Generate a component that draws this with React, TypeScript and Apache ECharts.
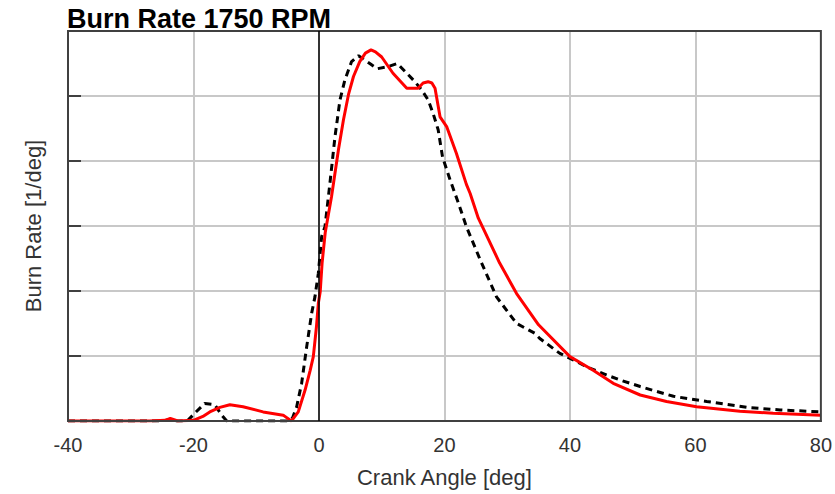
import React, { useEffect, useRef } from "react";
import * as echarts from "echarts";

const titleText = "Burn Rate 1750 RPM";
const xAxisName = "Crank Angle [deg]";
const yAxisName = "Burn Rate [1/deg]";

const redCurve: [number, number][] = [
  [-40, 0], [-27, 0], [-24.5, 0.01], [-23.7, 0.04], [-22.5, 0], [-20, 0.01], [-18.5, 0.07],
  [-17.4, 0.14], [-15.8, 0.21], [-14.2, 0.25], [-12.1, 0.22], [-8.9, 0.14], [-5.7, 0.09],
  [-4.4, 0], [-3.3, 0.14], [-2.2, 0.48], [-1.4, 0.78], [-0.9, 0.99], [-0.4, 1.45], [-0.1, 1.81],
  [0.2, 1.99], [0.5, 2.43], [1.0, 2.9], [2.0, 3.45], [3.1, 4.17], [3.9, 4.63], [4.7, 5.02],
  [5.5, 5.3], [6.5, 5.53], [7.4, 5.66], [8.3, 5.71], [9.0, 5.68], [10.0, 5.6], [11.8, 5.35],
  [14.0, 5.12], [15.8, 5.12], [16.6, 5.2], [17.4, 5.22], [18.0, 5.2], [18.5, 5.12], [19.3, 4.68],
  [20.35, 4.53], [21.9, 4.12], [23.5, 3.64], [24.1, 3.5], [25.4, 3.12], [26.2, 2.96],
  [28.8, 2.43], [31.5, 1.96], [35.0, 1.48], [40.0, 0.99], [43.7, 0.78], [46.9, 0.58],
  [51.2, 0.4], [55.4, 0.3], [60.2, 0.22], [67.1, 0.15], [72.4, 0.12], [80, 0.09],
];

const blackCurve: [number, number][] = [
  [-40, 0], [-25, 0], [-24, 0.02], [-23, 0], [-21, 0], [-19.8, 0.12], [-18.2, 0.27],
  [-16.6, 0.25], [-15.5, 0.09], [-14.7, 0], [-5, 0], [-4.2, 0.05], [-3.55, 0.22],
  [-2.76, 0.58], [-1.96, 1.14], [-1.16, 1.66], [-0.64, 1.91], [-0.1, 2.27], [0.43, 2.84],
  [0.96, 2.99], [1.75, 3.66], [2.55, 4.37], [3.35, 4.94], [4.14, 5.25], [5.2, 5.53],
  [6.3, 5.62], [8.1, 5.5], [9.3, 5.42], [11, 5.45], [12.5, 5.5], [14.0, 5.35], [15.3, 5.22],
  [16.4, 5.09], [17.4, 4.94], [18.2, 4.73], [19.0, 4.48], [19.7, 4.06], [20.9, 3.71],
  [22.2, 3.36], [23.5, 2.99], [25.7, 2.48], [28.3, 1.91], [31.5, 1.5], [34.4, 1.35],
  [35.2, 1.27], [38.4, 1.04], [40.5, 0.94], [43, 0.82], [45.8, 0.71], [48.0, 0.63],
  [51.2, 0.53], [56.5, 0.38], [61.8, 0.3], [68.2, 0.21], [73.5, 0.17], [80, 0.14],
];

const xMin = -40;
const xMax = 80;
const xStep = 20;
const yMin = 0;
const yMax = 6;
const yStep = 1;

const FONT = "Liberation Sans, Arial, sans-serif";

export default function App() {
  const ref = useRef<HTMLDivElement>(null);
  useEffect(() => {
    if (!ref.current) return;
    const chart = echarts.init(ref.current, undefined, { renderer: "svg" });
    chart.setOption({
      animation: false,
      backgroundColor: "#ffffff",
      title: {
        text: titleText,
        left: 67,
        top: 5,
        padding: 0,
        textStyle: { fontFamily: FONT, fontSize: 27, fontWeight: "bold", color: "#000" },
      },
      grid: {
        left: 68,
        right: 14,
        top: 31,
        bottom: 73,
        show: true,
        borderColor: "#404040",
        borderWidth: 2,
        backgroundColor: "transparent",
        z: 5,
      },
      xAxis: {
        type: "value",
        min: xMin,
        max: xMax,
        interval: xStep,
        name: xAxisName,
        nameLocation: "middle",
        nameGap: 45,
        nameTextStyle: { fontFamily: FONT, fontSize: 22, color: "#333" },
        axisLine: { show: true, onZero: false, lineStyle: { color: "#404040", width: 2 } },
        axisTick: { show: false },
        axisLabel: { fontFamily: FONT, fontSize: 20, color: "#333", margin: 14 },
        splitLine: {
          show: true,
          showMinLine: false,
          showMaxLine: false,
          lineStyle: { color: "#c8c8c8", width: 2 },
        },
      },
      yAxis: {
        type: "value",
        min: yMin,
        max: yMax,
        interval: yStep,
        name: yAxisName,
        nameLocation: "middle",
        nameGap: 24,
        nameTextStyle: { fontFamily: FONT, fontSize: 22, color: "#333" },
        axisLine: { show: true, onZero: false, lineStyle: { color: "#404040", width: 2 } },
        axisTick: { show: true, inside: true, length: 13, lineStyle: { color: "#404040", width: 2 } },
        axisLabel: { show: false },
        splitLine: {
          show: true,
          showMinLine: false,
          showMaxLine: false,
          lineStyle: { color: "#c8c8c8", width: 2 },
        },
      },
      series: [
        {
          type: "line",
          data: blackCurve,
          showSymbol: false,
          symbol: "none",
          smooth: false,
          lineStyle: { color: "#000", width: 3, type: [7, 5] },
          markLine: {
            silent: true,
            symbol: "none",
            label: { show: false },
            lineStyle: { color: "#000", width: 1.5, type: "solid" },
            data: [{ xAxis: 0 }],
          },
          z: 2,
        },
        {
          type: "line",
          data: redCurve,
          showSymbol: false,
          symbol: "none",
          smooth: false,
          lineStyle: { color: "#ff0000", width: 3 },
          z: 3,
        },
      ],
    });
    return () => chart.dispose();
  }, []);
  return (
    <div
      ref={ref}
      style={{ position: "fixed", left: 0, top: 0, width: 835, height: 494 }}
    />
  );
}
